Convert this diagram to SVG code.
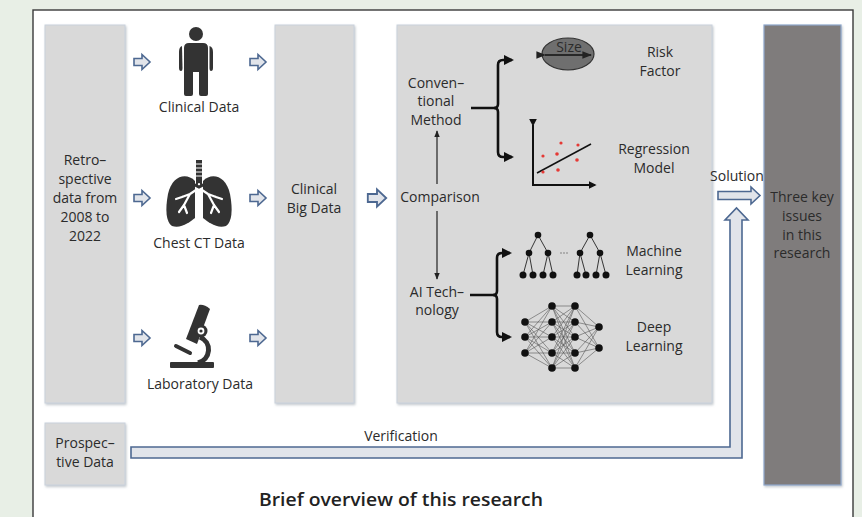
<svg xmlns="http://www.w3.org/2000/svg" width="862" height="517" viewBox="0 0 862 517">
  <defs>
    <style>
      .t { font-family: "Open Sans", "Noto Sans", sans-serif; font-size: 14px; fill: #2b2b2b; text-anchor: middle; }
      .box { fill: #d9d9d9; stroke: #c9d1dc; stroke-width: 1; }
      .flow { fill: #e1e4ea; stroke: #4d6891; stroke-width: 1.6; stroke-linejoin: miter; }
      .brace { fill: none; stroke: #111; stroke-width: 2.6; }
      .thin { fill: none; stroke: #222; stroke-width: 1.2; }
      .icon { fill: #333; }
      .net { stroke: #555; stroke-width: 0.6; }
      .tree { stroke: #222; stroke-width: 0.9; }
    </style>
    <marker id="head" viewBox="0 0 10 10" refX="8" refY="5" markerWidth="4" markerHeight="4" orient="auto">
      <path d="M0,0 L10,5 L0,10 Z" fill="#111"/>
    </marker>
    <marker id="headThin" viewBox="0 0 10 10" refX="9" refY="5" markerWidth="6" markerHeight="6" orient="auto">
      <path d="M0,1 L10,5 L0,9 Z" fill="#222"/>
    </marker>
    <path id="blk" d="M-8,-3.5 H0 V-7.5 L8,0 L0,7.5 V3.5 H-8 Z"/>
    <filter id="sh" x="-10%" y="-10%" width="130%" height="130%">
      <feDropShadow dx="1" dy="1.5" stdDeviation="1" flood-color="#9aa3ad" flood-opacity="0.6"/>
    </filter>
  </defs>

  <!-- page background and frame -->
  <rect x="0" y="0" width="862" height="517" fill="#e8efe6"/>
  <rect x="33" y="10" width="820" height="520" fill="#ffffff" stroke="#3a3a3a" stroke-width="1.4"/>

  <!-- data sources column -->
  <g id="retrospective">
    <rect class="box" x="45" y="25" width="80" height="378" filter="url(#sh)"/>
    <text class="t" x="85" y="165">Retro–</text>
    <text class="t" x="85" y="184">spective</text>
    <text class="t" x="85" y="203">data from</text>
    <text class="t" x="85" y="222">2008 to</text>
    <text class="t" x="85" y="241">2022</text>
  </g>

  <g id="prospective">
    <rect class="box" x="45" y="423" width="80" height="62" filter="url(#sh)"/>
    <text class="t" x="85" y="448">Prospec–</text>
    <text class="t" x="85" y="467">tive Data</text>
  </g>

  <g id="clinical-data">
    <!-- person icon -->
    <circle class="icon" cx="196" cy="34" r="7"/>
    <path class="icon" d="M189,43 H203 Q208,43 208,48 V94 Q208,96 206,96 H201 Q199,96 199,94 V72 H193 V94 Q193,96 191,96 H186 Q184,96 184,94 V48 Q184,43 189,43 Z"/>
    <path class="icon" d="M182,46 Q179,47 179,52 V68 Q179,71 181,71 Q182.5,71 182.5,68 Z"/>
    <path class="icon" d="M209.5,46 Q213,47 213,52 V68 Q213,71 211,71 Q209.5,71 209.5,68 Z"/>
    <rect x="195.3" y="72" width="1.4" height="24" fill="#fff"/>
    <text class="t" x="199" y="112">Clinical Data</text>
  </g>

  <g id="chest-ct-data">
    <!-- lungs icon -->
    <rect class="icon" x="196" y="160" width="6" height="26"/>
    <g stroke="#fff" stroke-width="1">
      <line x1="196" y1="164" x2="202" y2="164"/>
      <line x1="196" y1="168" x2="202" y2="168"/>
      <line x1="196" y1="172" x2="202" y2="172"/>
      <line x1="196" y1="176" x2="202" y2="176"/>
    </g>
    <path class="icon" d="M195,181 C186,172 172,176 168,194 C165,210 166,222 172,226 C181,229 190,222 195,218 Z"/>
    <path class="icon" d="M203,181 C212,172 226,176 230,194 C233,210 232,222 226,226 C217,229 208,222 203,218 Z"/>
    <path d="M199,184 L199,188 M199,188 L190,194 L182,197 M190,194 L184,205 L179,212 M184,205 L187,213 M182,197 L176,199 M199,188 L208,194 L216,197 M208,194 L214,205 L219,212 M214,205 L211,213 M216,197 L222,199" fill="none" stroke="#fff" stroke-width="2.2" stroke-linecap="round" stroke-linejoin="round"/>
    <path d="M193,184 L199,187 L205,184" fill="none" stroke="#333" stroke-width="3"/>
    <text class="t" x="199" y="248">Chest CT Data</text>
  </g>

  <g id="laboratory-data">
    <!-- microscope icon -->
    <rect class="icon" x="170" y="362" width="44" height="6" rx="1"/>
    <path d="M200,337 A15,14 0 0 1 198,363" fill="none" stroke="#333" stroke-width="5"/>
    <path class="icon" d="M199,305 Q204,304 210,309 L197,344 L186,339 Z"/>
    <circle class="icon" cx="201" cy="331" r="6.5"/>
    <circle cx="201" cy="331" r="3.4" fill="#fff"/>
    <circle cx="201" cy="331" r="1.6" fill="#333"/>
    <path d="M176,346 L190,353" stroke="#333" stroke-width="4" stroke-linecap="round"/>
    <text class="t" x="200" y="389">Laboratory Data</text>
  </g>

  <g id="clinical-big-data">
    <rect class="box" x="275" y="25" width="79" height="378" filter="url(#sh)"/>
    <text class="t" x="314" y="194">Clinical</text>
    <text class="t" x="314" y="213">Big Data</text>
  </g>

  <g id="methods">
    <rect class="box" x="397" y="25" width="315" height="378" filter="url(#sh)"/>
    <text class="t" x="436" y="88">Conven–</text>
    <text class="t" x="436" y="106">tional</text>
    <text class="t" x="436" y="125">Method</text>
    <text class="t" x="440" y="202">Comparison</text>
    <text class="t" x="437" y="297">AI Tech–</text>
    <text class="t" x="437" y="315">nology</text>

    <!-- risk factor: lesion size -->
    <ellipse cx="568" cy="54" rx="26" ry="16" fill="#6f6f6f" stroke="#333" stroke-width="1.2"/>
    <text class="t" x="569" y="52" font-size="13.5" fill="#1a1a1a">Size</text>
    <line x1="545" y1="55" x2="591" y2="55" stroke="#111" stroke-width="1.6" marker-start="url(#headThin)" marker-end="url(#headThin)"/>
    <text class="t" x="660" y="57">Risk</text>
    <text class="t" x="660" y="76">Factor</text>

    <!-- regression model -->
    <path d="M533,125 V185 H595" fill="none" stroke="#111" stroke-width="2" marker-start="url(#head)" marker-end="url(#head)"/>
    <line x1="537" y1="173" x2="591" y2="144" stroke="#111" stroke-width="1.5"/>
    <g fill="#e53935">
      <circle cx="561" cy="143" r="1.6"/>
      <circle cx="578" cy="145" r="1.6"/>
      <circle cx="543" cy="156" r="1.6"/>
      <circle cx="557" cy="154" r="1.8"/>
      <circle cx="577" cy="160" r="1.8"/>
      <circle cx="543" cy="172" r="1.6"/>
      <circle cx="558" cy="170" r="1.8"/>
    </g>
    <text class="t" x="654" y="154">Regression</text>
    <text class="t" x="654" y="173">Model</text>

    <!-- machine learning: decision tree ensemble -->
    <g class="tree">
      <line x1="538" y1="235" x2="529" y2="253"/>
      <line x1="538" y1="235" x2="548" y2="253"/>
      <line x1="529" y1="253" x2="523" y2="275"/>
      <line x1="529" y1="253" x2="533" y2="275"/>
      <line x1="548" y1="253" x2="543" y2="275"/>
      <line x1="548" y1="253" x2="553" y2="275"/>
      <line x1="590" y1="235" x2="580" y2="253"/>
      <line x1="590" y1="235" x2="600" y2="253"/>
      <line x1="580" y1="253" x2="577" y2="275"/>
      <line x1="580" y1="253" x2="586" y2="275"/>
      <line x1="600" y1="253" x2="596" y2="275"/>
      <line x1="600" y1="253" x2="606" y2="275"/>
    </g>
    <g fill="#111">
      <circle cx="538" cy="235" r="3.3"/>
      <circle cx="529" cy="253" r="3.3"/>
      <circle cx="548" cy="253" r="3.3"/>
      <circle cx="523" cy="275" r="3.5"/>
      <circle cx="533" cy="275" r="3.5"/>
      <circle cx="543" cy="275" r="3.5"/>
      <circle cx="553" cy="275" r="3.5"/>
      <circle cx="590" cy="235" r="3.3"/>
      <circle cx="580" cy="253" r="3.3"/>
      <circle cx="600" cy="253" r="3.3"/>
      <circle cx="577" cy="275" r="3.5"/>
      <circle cx="586" cy="275" r="3.5"/>
      <circle cx="596" cy="275" r="3.5"/>
      <circle cx="606" cy="275" r="3.5"/>
    </g>
    <g fill="#777">
      <circle cx="561" cy="253" r="0.8"/>
      <circle cx="564" cy="253" r="0.8"/>
      <circle cx="567" cy="253" r="0.8"/>
    </g>
    <text class="t" x="654" y="256">Machine</text>
    <text class="t" x="654" y="275">Learning</text>

    <!-- deep learning: fully connected network -->
    <g class="net">
      <path d="M525,322 L552,306 M525,322 L552,322 M525,322 L552,337 M525,322 L552,353 M525,322 L552,368
               M525,337 L552,306 M525,337 L552,322 M525,337 L552,337 M525,337 L552,353 M525,337 L552,368
               M525,353 L552,306 M525,353 L552,322 M525,353 L552,337 M525,353 L552,353 M525,353 L552,368
               M552,306 L575,306 M552,306 L575,322 M552,306 L575,337 M552,306 L575,353 M552,306 L575,368
               M552,322 L575,306 M552,322 L575,322 M552,322 L575,337 M552,322 L575,353 M552,322 L575,368
               M552,337 L575,306 M552,337 L575,322 M552,337 L575,337 M552,337 L575,353 M552,337 L575,368
               M552,353 L575,306 M552,353 L575,322 M552,353 L575,337 M552,353 L575,353 M552,353 L575,368
               M552,368 L575,306 M552,368 L575,322 M552,368 L575,337 M552,368 L575,353 M552,368 L575,368
               M575,306 L599,327 M575,322 L599,327 M575,337 L599,327 M575,353 L599,327 M575,368 L599,327
               M575,306 L599,348 M575,322 L599,348 M575,337 L599,348 M575,353 L599,348 M575,368 L599,348"/>
    </g>
    <g fill="#111">
      <circle cx="525" cy="322" r="3.8"/>
      <circle cx="525" cy="337" r="3.8"/>
      <circle cx="525" cy="353" r="3.8"/>
      <circle cx="552" cy="306" r="3.8"/>
      <circle cx="552" cy="322" r="3.8"/>
      <circle cx="552" cy="337" r="3.8"/>
      <circle cx="552" cy="353" r="3.8"/>
      <circle cx="552" cy="368" r="3.8"/>
      <circle cx="575" cy="306" r="3.8"/>
      <circle cx="575" cy="322" r="3.8"/>
      <circle cx="575" cy="337" r="3.8"/>
      <circle cx="575" cy="353" r="3.8"/>
      <circle cx="575" cy="368" r="3.8"/>
      <circle cx="599" cy="327" r="3.8"/>
      <circle cx="599" cy="348" r="3.8"/>
    </g>
    <text class="t" x="654" y="332">Deep</text>
    <text class="t" x="654" y="351">Learning</text>
  </g>

  <g id="key-issues">
    <rect x="764" y="25" width="77" height="460" fill="#7f7c7b" stroke="#8ea7cc" stroke-width="1.2" filter="url(#sh)"/>
    <text class="t" x="802" y="202" fill="#1e1e1e">Three key</text>
    <text class="t" x="802" y="221" fill="#1e1e1e">issues</text>
    <text class="t" x="802" y="240" fill="#1e1e1e">in this</text>
    <text class="t" x="802" y="258" fill="#1e1e1e">research</text>
  </g>

  <!-- connectors -->
  <g id="connectors">
    <use href="#blk" class="flow" x="142" y="62"/>
    <use href="#blk" class="flow" x="258" y="62"/>
    <use href="#blk" class="flow" x="142" y="198"/>
    <use href="#blk" class="flow" x="258" y="198"/>
    <use href="#blk" class="flow" x="142" y="338"/>
    <use href="#blk" class="flow" x="258" y="338"/>
    <use href="#blk" class="flow" transform="translate(377,198) scale(1.15)"/>

    <!-- conventional method branches -->
    <path class="brace" d="M471,108 H494 Q498,108 498,104 V65 Q498,60 503,60 H512" marker-end="url(#head)"/>
    <path class="brace" d="M494,108 Q498,108 498,112 V152 Q498,157 503,157 H512" marker-end="url(#head)"/>
    <!-- AI technology branches -->
    <path class="brace" d="M470,295 H493 Q497,295 497,291 V258 Q497,253 502,253 H510" marker-end="url(#head)"/>
    <path class="brace" d="M493,295 Q497,295 497,299 V332 Q497,337 502,337 H510" marker-end="url(#head)"/>

    <!-- comparison arrows -->
    <line class="thin" x1="437" y1="184" x2="437" y2="131" marker-end="url(#headThin)"/>
    <line class="thin" x1="437" y1="211" x2="437" y2="279" marker-end="url(#headThin)"/>

    <!-- solution arrow -->
    <path class="flow" d="M718,191.5 H751 V187 L760,195.5 L751,204 V199.5 H718 Z"/>
    <text class="t" x="737" y="181">Solution</text>

    <!-- verification pipe -->
    <path class="flow" d="M131,447 H730 V220 H725 L736.5,208 L748,220 H742 V458 H131 Z"/>
    <text class="t" x="401" y="441">Verification</text>
  </g>

  <text x="401" y="506" font-family="'Open Sans', 'Noto Sans', sans-serif" font-size="18" font-weight="600" fill="#222" text-anchor="middle" textLength="284" lengthAdjust="spacingAndGlyphs">Brief overview of this research</text>
</svg>
